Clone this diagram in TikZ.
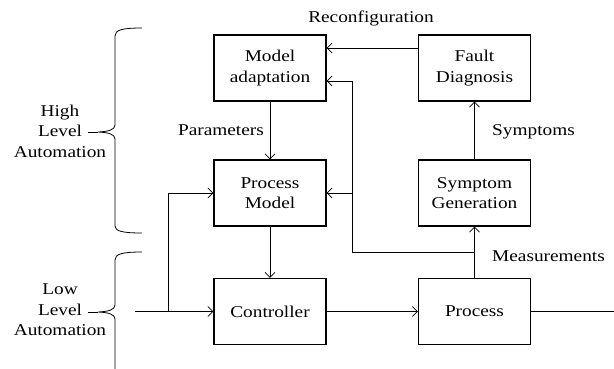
\documentclass[tikz,border=0pt]{standalone}
\usepackage{fontspec}
\setmainfont{Liberation Serif}[FakeStretch=1.17]
\usetikzlibrary{arrows.meta}
\begin{document}
\begin{tikzpicture}[x=1pt,y=-1pt,
  txt/.style={font=\fontsize{16.5}{20.5}\selectfont},
  block/.style={txt, draw, line width=1.4pt, minimum width=112pt,
    minimum height=66pt, align=center, inner sep=0pt},
  flow/.style={line width=0.6pt, -{Straight Barb[length=5pt,width=10pt]}},
  wire/.style={line width=0.6pt},
  lbl/.style={txt, inner sep=0pt},
  bracket/.style={line width=0.8pt}]
\useasboundingbox (0,0) rectangle (614,368);

% blocks
\node[block] (ma) at (270,68)    {Model\\adaptation};
\node[block] (fd) at (474.5,68)  {Fault\\Diagnosis};
\node[block] (pm) at (270,193)   {Process\\Model};
\node[block] (sg) at (474.5,193) {Symptom\\Generation};
\node[block] (ct) at (270,311.5) {Controller};
\node[block] (pr) at (474.5,311.5) {Process};

% helper points
\coordinate (in)  at (135,311.5);
\coordinate (br)  at (168,311.5);
\coordinate (out) at (614,311.5);
\coordinate (fb)  at (352,252);

% signal flow
\draw[flow] ([yshift=20pt]fd.west) -- ([yshift=20pt]ma.east);
\draw[flow] (ma.south) -- (pm.north);
\draw[flow] (pm.south) -- (ct.north);
\draw[flow] (sg.north) -- (fd.south);
\draw[flow] (pr.north) -- (sg.south);
\draw[flow] (in) -- (ct.west);
\draw[flow] (br) |- (pm.west);
\draw[flow] (ct.east) -- (pr.west);
\draw[wire] (pr.east) -- (out);
\draw[flow] (sg.south |- fb) -- (fb) |- ([yshift=-13pt]ma.east);
\draw[flow] (fb |- pm.east) -- (pm.east);

% labels
\node[lbl] (lrec) at (371,18) {Reconfiguration};
\node[lbl, anchor=east] (lpar) at (264,130) {Parameters};
\node[lbl, anchor=west] (lsym) at (492,132) {Symptoms};
\node[lbl, anchor=west] (lmea) at (492,256) {Measurements};

% level braces
\node[lbl, align=center] (hla) at (60,131) {High\\Level\\Automation};
\node[lbl, align=center] (lla) at (60,310) {Low\\Level\\Automation};

\draw[bracket] (142,28) .. controls (122,28) and (115,30) .. (115,36)
  -- (115,125) .. controls (115,130) and (108,131.5) .. (98,132)
  .. controls (108,132.5) and (115,134) .. (115,139)
  -- (115,226) .. controls (115,231) and (122,233) .. (142,233);
\draw[bracket] (88,132) -- (98,132);

\draw[bracket] (142,252) .. controls (122,252) and (115,254) .. (115,260)
  -- (115,305) .. controls (115,310) and (108,311.5) .. (98,312)
  .. controls (108,312.5) and (115,314) .. (115,319)
  -- (115,372);
\draw[bracket] (88,312) -- (98,312);
\end{tikzpicture}
\end{document}
